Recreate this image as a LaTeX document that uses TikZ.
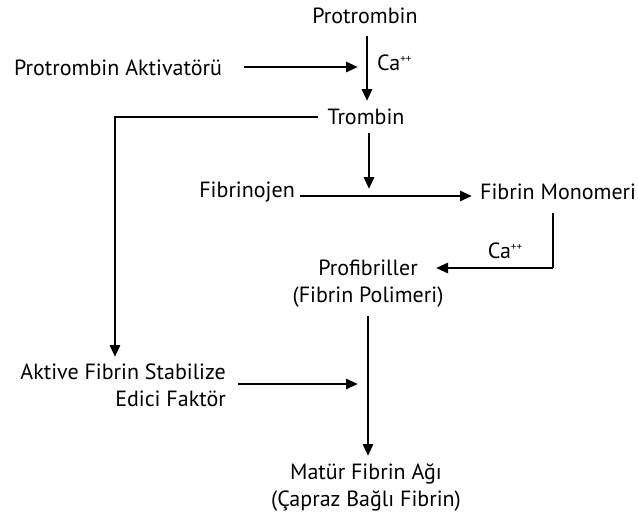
\documentclass[tikz,border=0pt]{standalone}
\usepackage{fontspec}
\setmainfont{PT Sans}
\usetikzlibrary{arrows.meta}
\newcommand{\calcium}{Ca\raisebox{0.75ex}{\fontsize{11}{11}\selectfont ++}}
\tikzset{
  lbl/.style={inner sep=0pt, font=\fontsize{22}{27}\selectfont, align=center},
  sup/.style={inner sep=0pt, font=\fontsize{22}{24}\selectfont},
  flow/.style={line width=2.8pt, -{Triangle[length=12pt,width=10pt]}},
  link/.style={line width=2.8pt}
}
\begin{document}
\begin{tikzpicture}[x=1pt,y=-1pt]
\useasboundingbox (0,0) rectangle (638,520);
% substances
\node[lbl] (pro) at (365,16) {Protrombin};
\node[lbl, anchor=west] (act) at (14,68) {Protrombin Aktivatörü};
\node[lbl] (tro) at (366,117) {Trombin};
\node[lbl, anchor=east] (fbg) at (295,192) {Fibrinojen};
\node[lbl, anchor=west] (mon) at (480,192) {Fibrin Monomeri};
\node[lbl] (pol) at (368,284) {Profibriller\\(Fibrin Polimeri)};
\node[lbl, align=right, anchor=east] (fsf) at (226,385) {Aktive Fibrin Stabilize\\Edici Faktör};
\node[lbl] (mat) at (366,487) {Matür Fibrin Ağı\\(Çapraz Bağlı Fibrin)};
% calcium labels
\node[sup, anchor=west] (ca1) at (377,63) {\calcium};
\node[sup] (ca2) at (505,251) {\calcium};
% junction points on the main lines
\coordinate (j1) at (358,67);
\coordinate (j2) at (369,189);
\coordinate (j3) at (358,384);
\coordinate (lc) at (115,117);
\coordinate (rc) at (553,268);
% connectors
\draw[flow] (367,36) -- (367,101);
\draw[flow] (244,67) -- (j1);
\draw[flow] (369,133) -- (j2);
\draw[flow] (300,196) -- (472,196);
\draw[link] (318,117) -- (lc) -- ++(0,1);
\draw[flow] (lc) -- (115,357);
\draw[link] (553,213) -- (rc);
\draw[flow] (rc) -- (436,268);
\draw[flow] (368,316) -- (368,456);
\draw[flow] (238,384) -- (j3);
\end{tikzpicture}
\end{document}
